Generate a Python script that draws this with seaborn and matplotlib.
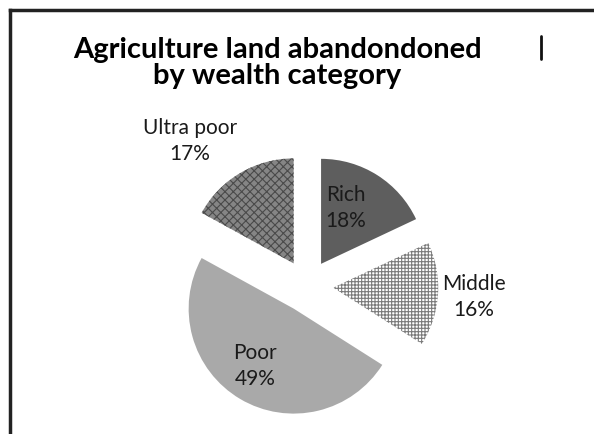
import numpy as np
import matplotlib
matplotlib.use("Agg")
import matplotlib.pyplot as plt
from matplotlib.lines import Line2D
import seaborn as sns

# ---- data ----
categories = ["Rich", "Middle", "Poor", "Ultra poor"]
shares = [18, 16, 49, 17]
title = "Agriculture land abandondoned\nby wealth category"

sns.set_theme(style="white")
plt.rcParams["font.family"] = ["Lato", "DejaVu Sans"]
plt.rcParams["hatch.linewidth"] = 0.8

fig = plt.figure(figsize=(5.94, 4.35), dpi=100)
fig.patch.set_facecolor("white")

# pie axes: square 280 px, centred at pixel (307, 287), radius 105 px
S = 280
cx, cy = 307, 287
ax = fig.add_axes([(cx - S / 2) / 594, (435 - cy - S / 2) / 435, S / 594, S / 435])
lim = S / 2 / 105

faces = ["#5e5e5e", "#ffffff", "#a9a9a9", "#858585"]
hatches = [None, "+++++", None, "xxxx"]
hatch_cols = ["#5e5e5e", "#7a7a7a", "#a9a9a9", "#4a4a4a"]

wedges, _ = ax.pie(shares, startangle=90, counterclock=False,
                   explode=[0.25] * len(shares), radius=1.0,
                   wedgeprops=dict(linewidth=0))
ax.set_xlim(-lim, lim)
ax.set_ylim(-lim, lim)
ax.set_aspect("equal")
ax.axis("off")
for w, fc, h, hc in zip(wedges, faces, hatches, hatch_cols):
    w.set_facecolor(fc)
    w.set_edgecolor(hc)
    w.set_linewidth(0)
    if h:
        w.set_hatch(h)

# label placement relative to each exploded wedge centre (distance, angle deg)
label_dist = [0.59, 1.34, 0.65, 1.535]
label_ang = [66.3, -3.4, 235.6, 130.0]
for w, cat, v, d, a in zip(wedges, categories, shares, label_dist, label_ang):
    x0, y0 = w.center
    ax.text(x0 + d * np.cos(np.radians(a)), y0 + d * np.sin(np.radians(a)),
            f"{cat}\n{v}%", ha="center", va="center", fontsize=15,
            color="#1a1a1a", linespacing=1.4)

fig.text(277 / 594, 1 - 37 / 435, title, ha="center", va="top",
         fontsize=21, fontweight="bold", color="black", linespacing=1.02)

# slide frame
fig.add_artist(Line2D([9.5 / 594, 9.5 / 594], [0, 1 - 11 / 435], transform=fig.transFigure,
                      color="#222222", lw=2.5, solid_capstyle="projecting"))
fig.add_artist(Line2D([9.5 / 594, 1], [1 - 11 / 435, 1 - 11 / 435], transform=fig.transFigure,
                      color="#222222", lw=2.5, solid_capstyle="projecting"))
fig.add_artist(Line2D([541 / 594, 541 / 594], [1 - 37 / 435, 1 - 60 / 435], transform=fig.transFigure,
                      color="#111111", lw=2.0))

fig.savefig("out.png", dpi=100, facecolor="white")
